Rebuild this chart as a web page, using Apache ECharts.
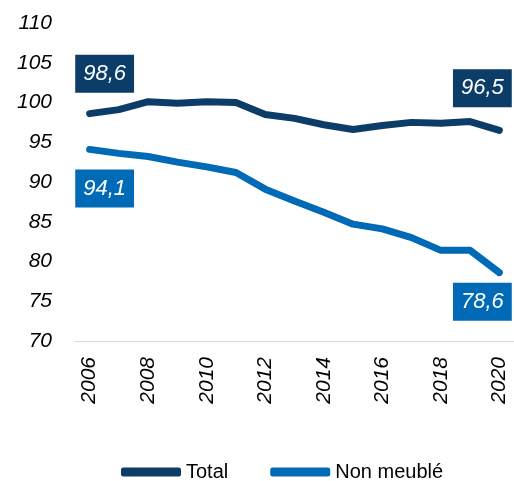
<!DOCTYPE html>
<html>
<head>
<meta charset="utf-8">
<script src="https://cdn.jsdelivr.net/npm/echarts@6/dist/echarts.min.js"></script>
<style>
  html, body { margin: 0; padding: 0; background: #fff; }
  #chart { width: 514px; height: 481px; }
</style>
</head>
<body>
<div id="chart"></div>
<script>
// données
const years = ['2006', '2007', '2008', '2009', '2010', '2011', '2012', '2013', '2014', '2015', '2016', '2017', '2018', '2019', '2020'];
const total = [98.6, 99.1, 100.1, 99.9, 100.1, 100.0, 98.5, 98.0, 97.2, 96.6, 97.1, 97.5, 97.4, 97.6, 96.5];
const nonMeuble = [94.1, 93.6, 93.2, 92.5, 91.9, 91.2, 89.1, 87.6, 86.2, 84.7, 84.1, 83.0, 81.4, 81.4, 78.6];
const seriesNames = ['Total', 'Non meublé'];

const navy = '#0b3d68';
const blue = '#006ab7';
const font = 'Liberation Sans, Arial, sans-serif';

// étiquette encadrée pour le premier et le dernier point
function boxLabel(color, pos, dist, dx) {
  return {
    show: true,
    position: pos,
    distance: dist,
    offset: [dx, 0],
    formatter: p => String(p.value).replace('.', ','),
    color: '#fff',
    backgroundColor: color,
    fontFamily: font,
    fontStyle: 'italic',
    fontSize: 22,
    lineHeight: 22,
    padding: [8, 8, 8, 8]
  };
}

function withLabels(values, color, firstPos, firstDist, lastPos, lastDist) {
  return values.map((v, i) => {
    if (i === 0) return { value: v, label: boxLabel(color, firstPos, firstDist, 15) };
    if (i === values.length - 1) return { value: v, label: boxLabel(color, lastPos, lastDist, -17) };
    return v;
  });
}

const chart = echarts.init(document.getElementById('chart'));

const option = {
  animation: false,
  grid: { left: 75, right: 0, top: 23, bottom: 140 },
  legend: {
    left: 116,
    top: 457,
    icon: 'roundRect',
    itemWidth: 60,
    itemHeight: 9,
    itemGap: 42,
    textStyle: { color: '#000', fontSize: 20, fontFamily: font, lineHeight: 20 },
    data: seriesNames
  },
  xAxis: {
    type: 'category',
    data: years,
    boundaryGap: true,
    axisLine: { lineStyle: { color: '#d9d9d9', width: 1 } },
    axisTick: { show: false },
    axisLabel: {
      interval: 1,
      rotate: 90,
      margin: 16,
      color: '#000',
      fontSize: 21,
      fontStyle: 'italic',
      fontFamily: font
    }
  },
  yAxis: {
    type: 'value',
    min: 70,
    max: 110,
    interval: 5,
    splitLine: { show: false },
    axisLine: { show: false },
    axisTick: { show: false },
    axisLabel: {
      margin: 23,
      color: '#000',
      fontSize: 21,
      fontStyle: 'italic',
      fontFamily: font
    }
  },
  series: [
    {
      name: seriesNames[0],
      type: 'line',
      data: withLabels(total, navy, 'top', 21, 'top', 23),
      color: navy,
      showSymbol: true,
      symbolSize: 0,
      lineStyle: { width: 7, color: navy, cap: 'round', join: 'round' }
    },
    {
      name: seriesNames[1],
      type: 'line',
      data: withLabels(nonMeuble, blue, 'bottom', 20, 'bottom', 10),
      color: blue,
      showSymbol: true,
      symbolSize: 0,
      lineStyle: { width: 7, color: blue, cap: 'round', join: 'round' }
    }
  ]
};

chart.setOption(option);
</script>
</body>
</html>
